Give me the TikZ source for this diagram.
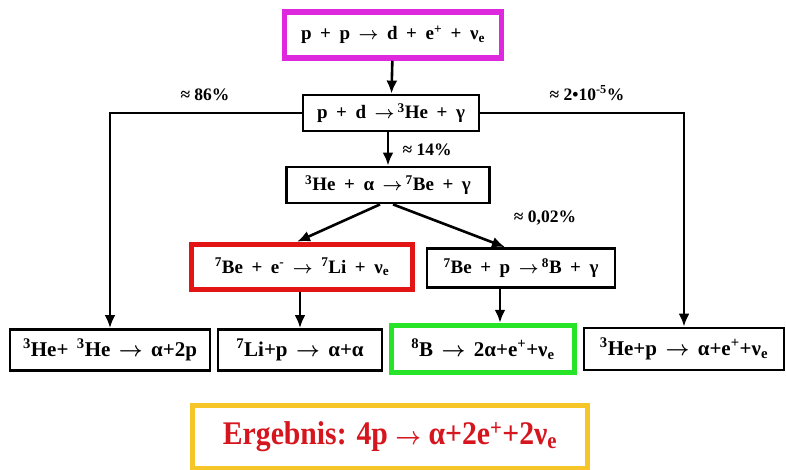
\documentclass[tikz,border=0pt]{standalone}
\usepackage{fontspec}
\usepackage{graphicx}
\setmainfont{Liberation Serif}
\usetikzlibrary{arrows.meta}
\definecolor{pinkrand}{RGB}{222,40,222}
\definecolor{rotrand}{RGB}{226,20,20}
\definecolor{gruenrand}{RGB}{40,228,40}
\definecolor{goldrand}{RGB}{246,198,40}
\definecolor{rottext}{RGB}{214,22,30}
\newcommand{\nue}{ν\textsubscript{e}}
\newcommand{\hoch}[1]{\textsuperscript{#1}}
\newcommand{\pf}{{\boldmath$\rightarrow$}}
\newcommand{\weit}[1]{\spaceskip=#1em plus 0.1em\relax}

\begin{document}
\begin{tikzpicture}[x=1pt, y=-1pt, >={Latex[length=13pt,width=11pt]},
    box/.style={draw, line width=2.8pt, fill=white, inner sep=0pt,
        font=\fontsize{19}{21}\selectfont\bfseries\weit{0.45}},
    unten/.style={box, font=\fontsize{21}{23}\selectfont\bfseries\weit{0.4}},
    rahmen/.style={line width=5.5pt},
    pfeil/.style={->, line width=2.6pt},
    quote/.style={font=\fontsize{17.5}{19}\selectfont\bfseries}]
    \useasboundingbox (0,0) rectangle (786,470);

    % 1. Kette: pp-Reaktion oben
    \node[box, rahmen, draw=pinkrand, minimum width=217pt, minimum height=46pt] (pp)
        at (393,35) {p + p \pf\ d + e\hoch{+} + \nue};
    \node[box, minimum width=176pt, minimum height=36pt] (pd)
        at (391,113) {p + d \pf\,\hoch{3}He + γ};
    \node[box, minimum width=203pt, minimum height=36pt] (hea)
        at (388,185) {\hoch{3}He + α \pf\,\hoch{7}Be + γ};

    % 2. mittlere Zeile
    \node[box, rahmen, draw=rotrand, minimum width=221pt, minimum height=45pt] (bee)
        at (302,267) {\hoch{7}Be + e\hoch{-} \pf\ \hoch{7}Li + \nue};
    \node[box, minimum width=188pt, minimum height=39pt] (bep)
        at (521,268) {\hoch{7}Be + p \pf\,\hoch{8}B + γ};

    % 3. untere Zeile
    \node[unten, minimum width=200pt, minimum height=41pt] (hehe)
        at (110,350) {\hoch{3}He+ \hoch{3}He \pf\ α+2p};
    \node[unten, minimum width=164pt, minimum height=41pt] (lip)
        at (300,350) {\hoch{7}Li+p \pf\ α+α};
    \node[unten, rahmen, draw=gruenrand, minimum width=183pt, minimum height=47pt] (bor)
        at (483,349) {\hoch{8}B \pf\ 2α+e\hoch{+}+\nue};
    \node[unten, minimum width=200pt, minimum height=42pt] (hep)
        at (684,349) {\hoch{3}He+p \pf\ α+e\hoch{+}+\nue};

    % 4. Ergebnis
    \node[box, rahmen, draw=goldrand, minimum width=395pt, minimum height=63pt,
        text=rottext, font=\fontsize{33}{35}\selectfont\bfseries] (erg)
        at (390,437) {\scalebox{0.9}[1]{Ergebnis: 4p \pf\ α+2e\hoch{+}+2\nue}};

    % 5. Pfeile
    \draw[pfeil] (pp) -- (pd);
    \draw[pfeil] (pd.south -| hea.north) -- (hea.north);
    \draw[pfeil] (pd.west) -| (hehe.north);
    \draw[pfeil] (pd.east) -| (hep.north);
    \draw[pfeil] ([xshift=-8pt]hea.south) -- ([xshift=-5pt]bee.north);
    \draw[pfeil] ([xshift=5pt]hea.south) -- ([xshift=-16pt]bep.north);
    \draw[pfeil] (bee.south -| lip.north) -- (lip.north);
    \draw[pfeil] ([xshift=-21pt]bep.south) -- ([xshift=-21pt]bep.south |- bor.north);

    % 6. Anteile
    \node[quote] (q86) at (205,95) {≈ 86\%};
    \node[quote] (q14) at (427,150) {≈ 14\%};
    \node[quote] (q002) at (545,218) {≈ 0,02\%};
    \node[quote] (q25) at (587,93) {≈ 2•10\hoch{-5}\%};
\end{tikzpicture}
\end{document}
